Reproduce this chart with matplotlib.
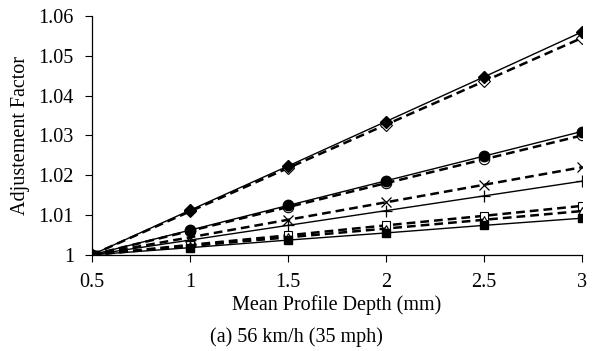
import numpy as np
import matplotlib.pyplot as plt

plt.rcParams['font.family'] = ['Liberation Serif', 'DejaVu Serif']

depth = [0.5, 1, 1.5, 2, 2.5, 3]

diamond_filled = [1, 1.0112, 1.0223, 1.0335, 1.0447, 1.0560]
diamond_open = [1, 1.0109, 1.0218, 1.0327, 1.0436, 1.0545]
circle_filled = [1, 1.0062, 1.0124, 1.0186, 1.0248, 1.0310]
circle_open = [1, 1.0060, 1.0120, 1.0180, 1.0240, 1.0300]
cross_x = [1, 1.0044, 1.0088, 1.0132, 1.0176, 1.0220]
plus = [1, 1.0037, 1.0074, 1.0111, 1.0148, 1.0185]
square_open = [1, 1.0025, 1.0049, 1.0074, 1.0098, 1.0123]
triangle_open = [1, 1.0022, 1.0044, 1.0066, 1.0088, 1.0110]
square_filled = [1, 1.0018, 1.0037, 1.0055, 1.0074, 1.0092]

yticks = [1, 1.01, 1.02, 1.03, 1.04, 1.05, 1.06]
ytick_labels = ['1', '1.01', '1.02', '1.03', '1.04', '1.05', '1.06']

fig = plt.figure(figsize=(6.13, 3.51), dpi=100)
ax = fig.add_axes([0.150, 0.274, 0.799, 0.680])

solid = dict(color='black', lw=1.0, ls='-')
dashed = dict(color='black', lw=1.8, ls=(0, (3.5, 2)))

# dashed (open markers) first, solid (filled markers) on top
ax.plot(depth, diamond_open, marker='D', ms=6, mfc='white', mec='black', mew=0.8, **dashed)
ax.plot(depth, circle_open, marker='o', ms=7.5, mfc='white', mec='black', mew=0.8, **dashed)
ax.plot(depth, cross_x, marker='x', ms=7, mec='black', mew=0.9, **dashed)
ax.plot(depth, square_open, marker='s', ms=6, mfc='white', mec='black', mew=0.8, **dashed)
ax.plot(depth, triangle_open, marker='^', ms=6, mfc='white', mec='black', mew=0.8, **dashed)
ax.plot(depth, diamond_filled, marker='D', ms=6, mfc='black', mec='black', **solid)
ax.plot(depth, circle_filled, marker='o', ms=7.5, mfc='black', mec='black', **solid)
ax.plot(depth, plus, marker='+', ms=8, mec='black', mew=0.9, **solid)
ax.plot(depth, square_filled, marker='s', ms=6, mfc='black', mec='black', **solid)

ax.set_xlim(0.5, 3)
ax.set_ylim(1, 1.06)
ax.set_xticks(depth)
ax.set_xticklabels(['0.5', '1', '1.5', '2', '2.5', '3'])
ax.set_yticks(yticks)
ax.set_yticklabels(ytick_labels)
ax.spines['top'].set_visible(False)
ax.spines['right'].set_visible(False)
ax.tick_params(direction='out', length=5, width=0.8, labelsize=14.5)
ax.tick_params(axis='y', pad=8)
ax.tick_params(axis='x', pad=8)
for s in ax.spines.values():
    s.set_linewidth(0.9)

ax.set_ylabel('Adjustement Factor', fontsize=14.5, labelpad=6)
ax.set_xlabel('Mean Profile Depth (mm)', fontsize=14.5, labelpad=2)
fig.text(0.483, 0.040, '(a) 56 km/h (35 mph)', ha='center', va='center', fontsize=14.5)

fig.savefig('out.png', dpi=100)
